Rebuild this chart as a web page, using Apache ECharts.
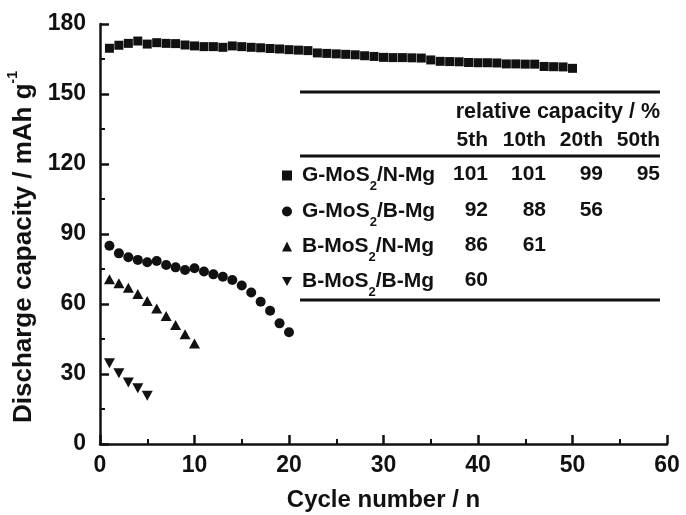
<!DOCTYPE html>
<html>
<head>
<meta charset="utf-8">
<script src="https://cdn.jsdelivr.net/npm/echarts@6/dist/echarts.min.js"></script>
<style>
  html, body { margin: 0; padding: 0; background: #fff; }
  #main { width: 686px; height: 515px; }
</style>
</head>
<body>
<div id="main"></div>
<script>
// discharge capacity per cycle, cycle = index + 1
var gnCap = [169.6, 170.9, 171.7, 172.7, 171.4, 172.0, 171.7, 171.6, 171.0, 170.6,
  170.3, 170.3, 170.0, 170.6, 170.3, 170.0, 169.8, 169.5, 169.3, 169.0,
  168.8, 168.6, 167.6, 167.4, 167.2, 167.0, 166.8, 166.4, 166.1, 165.7,
  165.6, 165.6, 165.5, 165.4, 164.6, 164.0, 163.9, 163.8, 163.5, 163.4,
  163.4, 163.3, 162.9, 162.9, 162.8, 162.8, 161.8, 161.7, 161.6, 161.0];
var gbCap = [85.0, 81.7, 80.0, 78.9, 77.9, 78.4, 76.7, 75.7, 74.6, 75.3,
  73.9, 72.7, 71.7, 70.3, 67.9, 64.9, 61.0, 57.1, 51.7, 47.9];
var bnCap = [70.6, 68.9, 67.0, 64.3, 61.3, 58.1, 54.9, 51.0, 47.0, 43.1];
var bbCap = [34.6, 30.3, 26.4, 23.9, 20.7];

var seriesNames = ["G-MoS2/N-Mg", "G-MoS2/B-Mg", "B-MoS2/N-Mg", "B-MoS2/B-Mg"];

// table: relative capacity / %
var colHeads = ["5th", "10th", "20th", "50th"];
var relCap = [
  ["101", "101", "99", "95"],
  ["92", "88", "56", ""],
  ["86", "61", "", ""],
  ["60", "", "", ""],
];

var FONT = "Liberation Sans, Arial, sans-serif";
var INK = "#111";

var myChart = echarts.init(document.getElementById("main"));

function toPts(arr) {
  return arr.map(function (v, i) { return [i + 1, v]; });
}

// table layout (pixels)
var colRight = [488, 546, 603, 660];
var rowY = [174, 210, 245, 280];
var TFONT = "bold 21px " + FONT;

var graphics = [
  { type: "line", shape: { x1: 300, y1: 92, x2: 660, y2: 92 }, style: { stroke: INK, lineWidth: 3 } },
  { type: "line", shape: { x1: 300, y1: 156, x2: 660, y2: 156 }, style: { stroke: INK, lineWidth: 3 } },
  { type: "line", shape: { x1: 300, y1: 300, x2: 660, y2: 300 }, style: { stroke: INK, lineWidth: 3 } },
  {
    type: "text", x: 660, y: 112,
    style: { text: "relative capacity / %", align: "right", verticalAlign: "middle", font: "bold 21.5px " + FONT, fill: INK },
  },
];
colHeads.forEach(function (h, j) {
  graphics.push({
    type: "text", x: colRight[j], y: 140,
    style: { text: h, align: "right", verticalAlign: "middle", font: TFONT, fill: INK },
  });
});
relCap.forEach(function (row, i) {
  row.forEach(function (v, j) {
    if (!v) return;
    graphics.push({
      type: "text", x: colRight[j], y: rowY[i],
      style: { text: v, align: "right", verticalAlign: "middle", font: TFONT, fill: INK },
    });
  });
});

// one legend per table row so each lines up with its row
var richName = {
  p: { fontSize: 21, fontWeight: "bold", fontFamily: FONT, color: INK, lineHeight: 24, verticalAlign: "middle", padding: [0, 0, 0, 5] },
  n: { fontSize: 21, fontWeight: "bold", fontFamily: FONT, color: INK, lineHeight: 24, verticalAlign: "middle" },
  s: { fontSize: 13, fontWeight: "bold", fontFamily: FONT, color: INK, lineHeight: 34, verticalAlign: "bottom" },
};
var legendIcons = ["rect", "circle", "triangle", "path://M0,0L10,0L5,9Z"];
var legends = seriesNames.map(function (name, i) {
  return {
    data: [{ name: name, icon: legendIcons[i] }],
    left: 282,
    top: rowY[i] - 9,
    padding: 0,
    itemWidth: 10,
    itemHeight: 10,
    selectedMode: false,
    itemStyle: { color: INK, opacity: 1 },
    formatter: function (nm) {
      var parts = nm.split("2");
      return "{p|" + parts[0] + "}{s|2}{n|" + parts[1] + "}";
    },
    textStyle: { rich: richName },
  };
});

var option = {
  animation: false,
  backgroundColor: "#fff",
  grid: { left: 100, right: 19, top: 24, bottom: 71, outerBoundsMode: "none", containLabel: false },
  legend: legends,
  graphic: graphics,
  xAxis: {
    type: "value",
    min: 0, max: 60, interval: 10,
    name: "Cycle number / n",
    nameLocation: "middle",
    nameGap: 44,
    nameTextStyle: { fontSize: 24, fontWeight: "bold", fontFamily: FONT, color: INK },
    axisLine: { lineStyle: { color: INK, width: 2.5 } },
    axisTick: { inside: true, length: 9, lineStyle: { color: INK, width: 2.5 } },
    minorTick: { show: true, splitNumber: 2, length: 5, lineStyle: { color: INK, width: 2 } },
    splitLine: { show: false },
    axisLabel: { fontSize: 23, fontWeight: "bold", fontFamily: FONT, color: INK, margin: 10 },
  },
  yAxis: {
    type: "value",
    min: 0, max: 180, interval: 30,
    name: "{a|Discharge capacity / mAh g}{b|-1}",
    nameLocation: "middle",
    nameGap: 57,
    nameTextStyle: {
      rich: {
        a: { fontSize: 26, fontWeight: "bold", fontFamily: FONT, color: INK, lineHeight: 30, verticalAlign: "middle" },
        b: { fontSize: 14, fontWeight: "bold", fontFamily: FONT, color: INK, lineHeight: 36, verticalAlign: "top", padding: [0, 26, 0, 0] },
      },
    },
    axisLine: { show: true, lineStyle: { color: INK, width: 2.5 } },
    axisTick: { show: true, inside: true, length: 9, lineStyle: { color: INK, width: 2.5 } },
    minorTick: { show: true, splitNumber: 2, length: 5, lineStyle: { color: INK, width: 2 } },
    splitLine: { show: false },
    axisLabel: { fontSize: 23, fontWeight: "bold", fontFamily: FONT, color: INK, margin: 14 },
  },
  series: [
    { name: seriesNames[0], type: "scatter", symbol: "rect", symbolSize: 9,
      itemStyle: { color: INK, opacity: 1 }, data: toPts(gnCap) },
    { name: seriesNames[1], type: "scatter", symbol: "circle", symbolSize: 10,
      itemStyle: { color: INK, opacity: 1 }, data: toPts(gbCap) },
    { name: seriesNames[2], type: "scatter", symbol: "triangle", symbolSize: [11, 10],
      itemStyle: { color: INK, opacity: 1 }, data: toPts(bnCap) },
    { name: seriesNames[3], type: "scatter", symbol: "triangle", symbolRotate: 180, symbolSize: [11, 10],
      itemStyle: { color: INK, opacity: 1 }, data: toPts(bbCap) },
  ],
};

myChart.setOption(option);
</script>
</body>
</html>
